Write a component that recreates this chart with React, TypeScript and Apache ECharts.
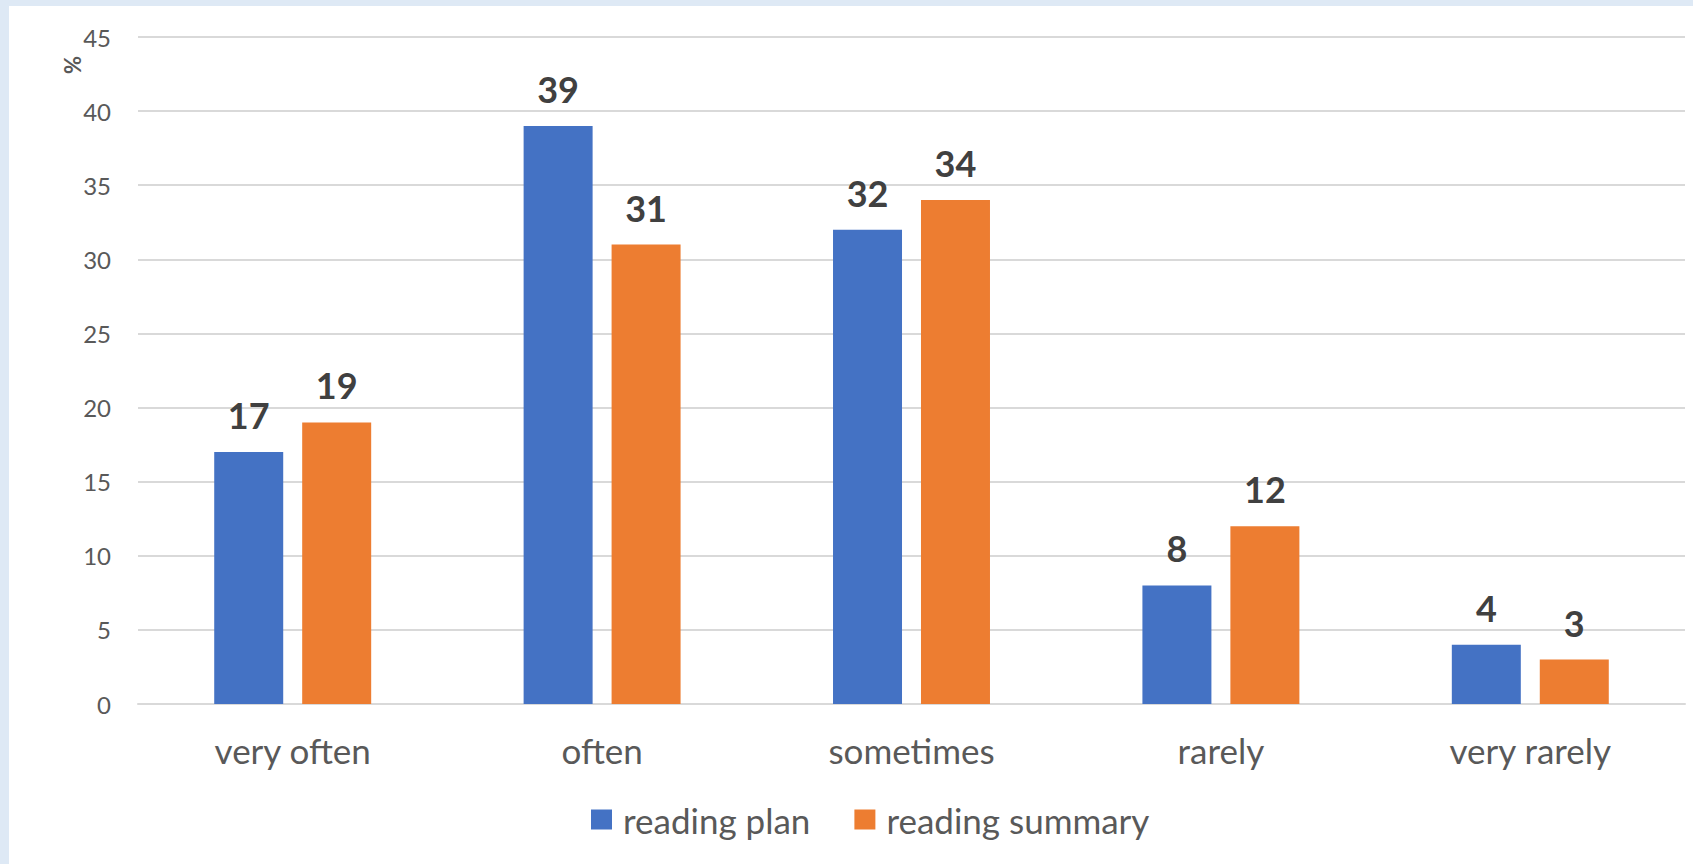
import React, { useEffect, useRef } from "react";
import * as echarts from "echarts";

const categories = ["very often", "often", "sometimes", "rarely", "very rarely"];
const readingPlan = [17, 39, 32, 8, 4];
const readingSummary = [19, 31, 34, 12, 3];
const seriesNames = ["reading plan", "reading summary"];
const yTicks = { min: 0, max: 45, interval: 5 };

const FONT = "Lato, 'Noto Sans', sans-serif";

export default function App() {
  const ref = useRef<HTMLDivElement>(null);

  useEffect(() => {
    if (!ref.current) return;
    const chart = echarts.init(ref.current, null, { renderer: "svg" });

    const labelStyle = {
      show: true,
      position: "top" as const,
      distance: 19,
      fontFamily: FONT,
      fontSize: 36,
      fontWeight: "bold" as const,
      color: "#404040",
    };

    chart.setOption({
      animation: false,
      backgroundColor: "#ffffff",
      textStyle: { fontFamily: FONT },
      graphic: [
        { type: "rect", left: 0, top: 0, shape: { width: 1693, height: 6 }, style: { fill: "#dee9f5" }, silent: true },
        { type: "rect", left: 0, top: 0, shape: { width: 9, height: 864 }, style: { fill: "#dee9f5" }, silent: true },
        {
          type: "text",
          x: 72,
          y: 65,
          rotation: Math.PI / 2,
          style: {
            text: "%",
            fontFamily: FONT,
            fontSize: 22,
            fontWeight: "bold",
            fill: "#595959",
            align: "center",
            verticalAlign: "middle",
          },
        },
      ],
      grid: { left: 138, right: 8, top: 37, bottom: 160, containLabel: false },
      legend: {
        data: seriesNames,
        left: 586,
        top: 797,
        itemWidth: 21,
        itemHeight: 20,
        itemGap: 44,
        icon: "rect",
        textStyle: {
          fontFamily: FONT,
          fontSize: 35,
          color: "#595959",
          padding: [0, 0, 0, 6],
        },
      },
      xAxis: {
        type: "category",
        data: categories,
        axisLine: { show: true, lineStyle: { color: "#d9d9d9", width: 2 } },
        axisTick: { show: false },
        axisLabel: {
          fontFamily: FONT,
          fontSize: 35,
          color: "#595959",
          margin: 28,
        },
      },
      yAxis: {
        type: "value",
        min: yTicks.min,
        max: yTicks.max,
        interval: yTicks.interval,
        axisLine: { show: false },
        axisTick: { show: false },
        splitLine: { lineStyle: { color: "#d9d9d9", width: 2 } },
        axisLabel: {
          fontFamily: FONT,
          fontSize: 24,
          color: "#595959",
          margin: 27,
        },
      },
      series: [
        {
          name: seriesNames[0],
          type: "bar",
          data: readingPlan,
          barWidth: "22.3%",
          barGap: "27.5%",
          itemStyle: { color: "#4472c4" },
          label: labelStyle,
        },
        {
          name: seriesNames[1],
          type: "bar",
          data: readingSummary,
          barWidth: "22.3%",
          barGap: "27.5%",
          itemStyle: { color: "#ed7d31" },
          label: labelStyle,
        },
      ],
    });

    return () => chart.dispose();
  }, []);

  return (
    <div
      ref={ref}
      style={{ position: "fixed", left: 0, top: 0, width: 1693, height: 864 }}
    />
  );
}
